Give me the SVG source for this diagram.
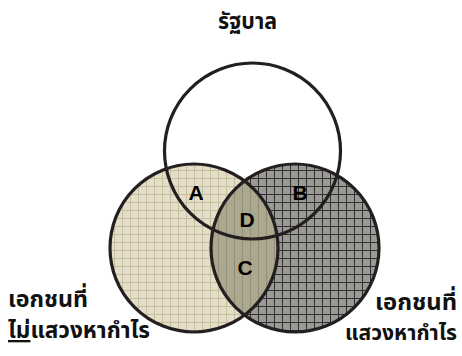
<svg xmlns="http://www.w3.org/2000/svg" width="462" height="356" viewBox="0 0 462 356">
<style>
.ring{fill:none;stroke:#231f20;stroke-width:3.2}
.lbl{font-family:"Liberation Sans",Arial,sans-serif;font-weight:bold;font-size:21px;fill:#000;text-anchor:middle}
.th{font-family:"Noto Sans Thai","Noto Sans","DejaVu Sans",sans-serif;font-weight:bold;font-size:23px;fill:#111}
</style>
<defs>
<pattern id="pL" width="8" height="8" patternUnits="userSpaceOnUse" x="2" y="2">
<rect width="8" height="8" fill="#e3ddc9"/>
<path d="M0 0.5H8M0.5 0V8" stroke="#c6bf9c" stroke-width="1"/>
</pattern>
<pattern id="pR" width="8" height="8" patternUnits="userSpaceOnUse" x="2" y="2">
<rect width="8" height="8" fill="#9c9a94"/>
<path d="M0 0.5H8M0.5 0V8" stroke="#2e2e2e" stroke-width="1"/>
</pattern>
<pattern id="pM" width="8" height="8" patternUnits="userSpaceOnUse" x="2" y="2">
<rect width="8" height="8" fill="#aca890"/>
<path d="M0.5 0V8" stroke="#948f78" stroke-width="1"/>
</pattern>
<clipPath id="cR"><circle cx="295" cy="248" r="84"/></clipPath>
</defs>
<g id="private-profit">
<circle cx="295" cy="248" r="84" fill="url(#pR)"/>
</g>
<g id="private-nonprofit">
<circle cx="194" cy="248" r="84" fill="url(#pL)"/>
<circle cx="194" cy="248" r="84" fill="url(#pM)" clip-path="url(#cR)"/>
</g>
<g id="rings">
<circle class="ring" cx="295" cy="248" r="84"/>
<circle class="ring" cx="194" cy="248" r="84"/>
</g>
<g id="government">
<circle class="ring" cx="252.5" cy="151" r="88"/>
<text class="th" x="218" y="29" textLength="59" lengthAdjust="spacingAndGlyphs">รัฐบาล</text>
</g>
<g id="region-labels">
<text class="lbl" x="196" y="200">A</text>
<text class="lbl" x="300" y="200">B</text>
<text class="lbl" x="247" y="227">D</text>
<text class="lbl" x="245" y="275">C</text>
</g>
<g id="label-nonprofit">
<text class="th" x="8" y="307" textLength="80" lengthAdjust="spacingAndGlyphs">เอกชนที่</text>
<text class="th" x="8" y="338" textLength="142" lengthAdjust="spacingAndGlyphs"><tspan text-decoration="underline">ไม่</tspan>แสวงหากำไร</text>
</g>
<g id="label-profit">
<text class="th" x="375" y="310" textLength="82" lengthAdjust="spacingAndGlyphs">เอกชนที่</text>
<text class="th" x="345" y="340" textLength="112" lengthAdjust="spacingAndGlyphs" style="font-size:22px">แสวงหากำไร</text>
</g>
<g id="connectors"/>
</svg>
